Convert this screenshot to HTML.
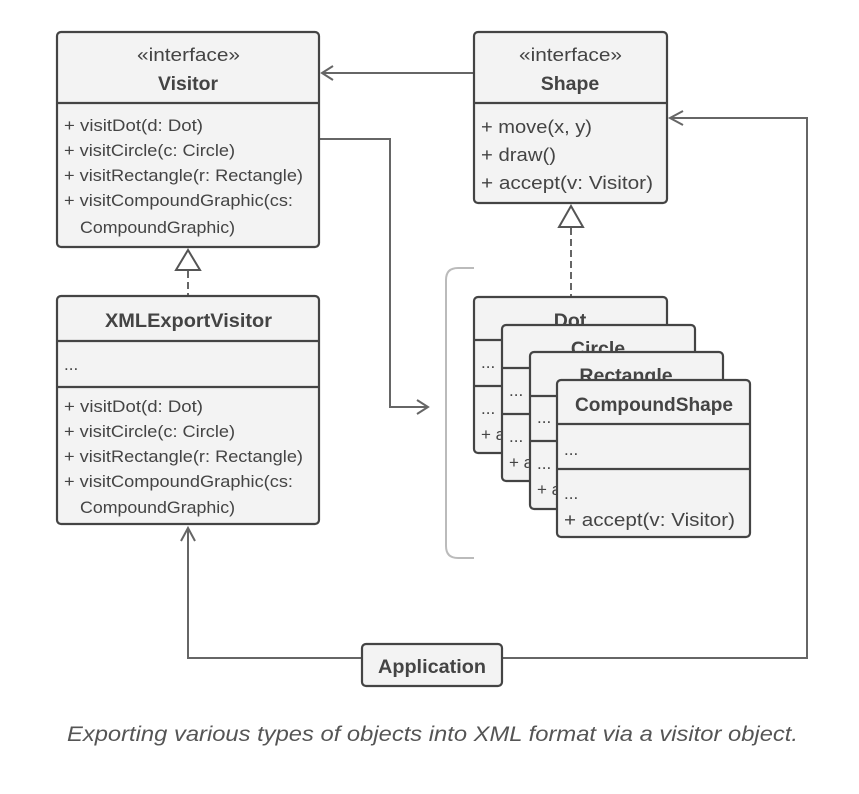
<!DOCTYPE html>
<html><head><meta charset="utf-8"><style>
html,body{margin:0;padding:0;background:#fff;}
svg{display:block;}
text{font-family:"Liberation Sans",sans-serif;fill:#444;}
.m{font-size:17px;}
.b{font-weight:bold;font-size:19.5px;}
.i{font-size:18.5px;}
.box{fill:#f3f3f3;stroke:#444;stroke-width:2.2;}
.ln{stroke:#444;stroke-width:2.2;fill:none;}
.c{fill:none;stroke:#666;stroke-width:2;}
</style></head><body>
<svg width="859" height="794" viewBox="0 0 859 794">
<path class="c" d="M474 73 L322 73 M333 66 L322 73 L333 80"/>
<path class="c" d="M320 139 L390 139 L390 407 L428 407 M417 400 L428 407 L417 414"/>
<path class="c" d="M362 658 L188 658 L188 528 M181 541 L188 528 L195 541"/>
<path class="c" d="M502 658 L807 658 L807 118 L670 118 M683 111 L670 118 L683 125"/>
<path class="c" stroke-dasharray="7,4" d="M188 271 L188 296"/>
<polygon points="188,250 176,270 200,270" fill="#fff" stroke="#555" stroke-width="2"/>
<path class="c" stroke-dasharray="7,4" d="M571 228 L571 297"/>
<polygon points="571,206 559,227 583,227" fill="#fff" stroke="#555" stroke-width="2"/>
<path d="M474 268 L458 268 Q446 268 446 280 L446 546 Q446 558 458 558 L474 558" fill="none" stroke="#bbb" stroke-width="2"/>

<rect class="box" x="57" y="32" width="262" height="215" rx="4"/>
<line class="ln" x1="57" y1="103" x2="319" y2="103"/>
<text x="137" y="61" class="i" textLength="103" lengthAdjust="spacingAndGlyphs">«interface»</text>
<text x="158" y="90" class="b" textLength="60" lengthAdjust="spacingAndGlyphs">Visitor</text>
<text class="m" x="64" y="131" textLength="139" lengthAdjust="spacingAndGlyphs">+ visitDot(d: Dot)</text>
<text class="m" x="64" y="156" textLength="171" lengthAdjust="spacingAndGlyphs">+ visitCircle(c: Circle)</text>
<text class="m" x="64" y="181" textLength="239" lengthAdjust="spacingAndGlyphs">+ visitRectangle(r: Rectangle)</text>
<text class="m" x="64" y="206" textLength="229" lengthAdjust="spacingAndGlyphs">+ visitCompoundGraphic(cs:</text>
<text class="m" x="80" y="233" textLength="155" lengthAdjust="spacingAndGlyphs">CompoundGraphic)</text>

<rect class="box" x="474" y="32" width="193" height="171" rx="4"/>
<line class="ln" x1="474" y1="103" x2="667" y2="103"/>
<text x="519" y="61" class="i" textLength="103" lengthAdjust="spacingAndGlyphs">«interface»</text>
<text x="570" y="90" text-anchor="middle" class="b">Shape</text>
<text x="481" y="133" class="i" textLength="111" lengthAdjust="spacingAndGlyphs">+ move(x, y)</text>
<text x="481" y="161" class="i" textLength="75" lengthAdjust="spacingAndGlyphs">+ draw()</text>
<text x="481" y="189" class="i" textLength="172" lengthAdjust="spacingAndGlyphs">+ accept(v: Visitor)</text>

<rect class="box" x="57" y="296" width="262" height="228" rx="4"/>
<line class="ln" x1="57" y1="341" x2="319" y2="341"/>
<line class="ln" x1="57" y1="387" x2="319" y2="387"/>
<text x="105" y="327" class="b" textLength="167" lengthAdjust="spacingAndGlyphs">XMLExportVisitor</text>
<text class="m" x="64" y="370">...</text>
<text class="m" x="64" y="412" textLength="139" lengthAdjust="spacingAndGlyphs">+ visitDot(d: Dot)</text>
<text class="m" x="64" y="437" textLength="171" lengthAdjust="spacingAndGlyphs">+ visitCircle(c: Circle)</text>
<text class="m" x="64" y="462" textLength="239" lengthAdjust="spacingAndGlyphs">+ visitRectangle(r: Rectangle)</text>
<text class="m" x="64" y="487" textLength="229" lengthAdjust="spacingAndGlyphs">+ visitCompoundGraphic(cs:</text>
<text class="m" x="80" y="513" textLength="155" lengthAdjust="spacingAndGlyphs">CompoundGraphic)</text>

<g>
<rect class="box" x="474" y="297" width="193" height="156" rx="4"/>
<line class="ln" x1="474" y1="340" x2="667" y2="340"/>
<line class="ln" x1="474" y1="386" x2="667" y2="386"/>
<text x="570" y="327" text-anchor="middle" class="b">Dot</text>
<text class="m" x="481" y="368">...</text>
<text class="m" x="481" y="414">...</text>
<text class="m" x="481" y="440">+ accept(v: Visitor)</text>
</g>
<g>
<rect class="box" x="502" y="325" width="193" height="156" rx="4"/>
<line class="ln" x1="502" y1="368" x2="695" y2="368"/>
<line class="ln" x1="502" y1="414" x2="695" y2="414"/>
<text x="598" y="355" text-anchor="middle" class="b">Circle</text>
<text class="m" x="509" y="396">...</text>
<text class="m" x="509" y="442">...</text>
<text class="m" x="509" y="468">+ accept(v: Visitor)</text>
</g>
<g>
<rect class="box" x="530" y="352" width="193" height="157" rx="4"/>
<line class="ln" x1="530" y1="396" x2="723" y2="396"/>
<line class="ln" x1="530" y1="441" x2="723" y2="441"/>
<text x="626" y="382" text-anchor="middle" class="b">Rectangle</text>
<text class="m" x="537" y="423">...</text>
<text class="m" x="537" y="469">...</text>
<text class="m" x="537" y="495">+ accept(v: Visitor)</text>
</g>
<g>
<rect class="box" x="557" y="380" width="193" height="157" rx="4"/>
<line class="ln" x1="557" y1="424" x2="750" y2="424"/>
<line class="ln" x1="557" y1="469" x2="750" y2="469"/>
<text x="575" y="411" class="b" textLength="158" lengthAdjust="spacingAndGlyphs">CompoundShape</text>
<text class="m" x="564" y="455">...</text>
<text class="m" x="564" y="499">...</text>
<text x="564" y="526" class="i" textLength="171" lengthAdjust="spacingAndGlyphs">+ accept(v: Visitor)</text>
</g>

<rect class="box" x="362" y="644" width="140" height="42" rx="4"/>
<text x="378" y="673" class="b" textLength="108" lengthAdjust="spacingAndGlyphs">Application</text>

<text x="67" y="741" textLength="731" lengthAdjust="spacingAndGlyphs" style="font-size:21px;font-style:italic;fill:#555">Exporting various types of objects into XML format via a visitor object.</text>
</svg>
</body></html>
